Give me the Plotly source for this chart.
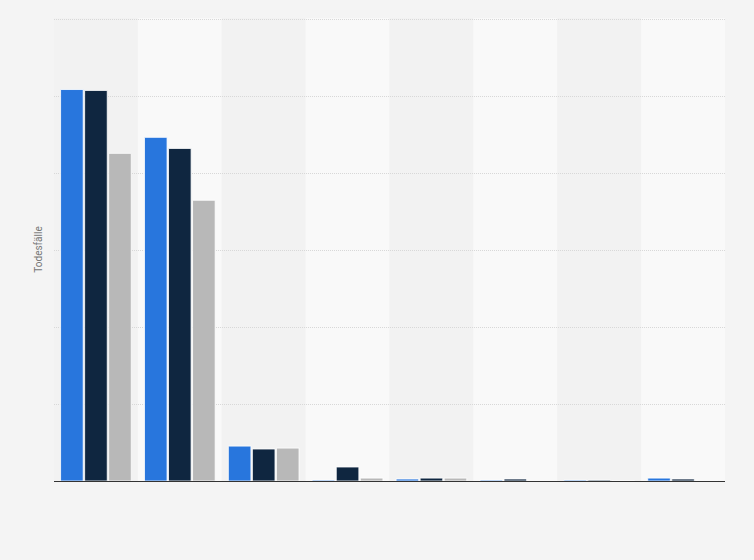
import plotly.graph_objects as go

# categories (labels are not shown in the chart)
categories = ["K1", "K2", "K3", "K4", "K5", "K6", "K7", "K8"]

# three series
series_a = [2545, 2234, 227, 6, 13, 6, 6, 19]
series_b = [2539, 2162, 208, 91, 19, 13, 6, 13]
series_c = [2130, 1825, 214, 19, 19, 3, 3, 3]

series_names = ["Serie A", "Serie B", "Serie C"]
series_colors = ["#2876dd", "#0f2640", "#b8b8b8"]

fig = go.Figure()

for name, vals, col in zip(series_names, [series_a, series_b, series_c], series_colors):
    fig.add_trace(go.Bar(
        x=categories,
        y=vals,
        name=name,
        marker=dict(color=col, line=dict(color="#ffffff", width=0.8)),
    ))

# alternating column bands
for i in range(len(categories)):
    fig.add_shape(
        type="rect", xref="x", yref="paper",
        x0=i - 0.5, x1=i + 0.5, y0=0, y1=1,
        fillcolor="#f2f2f2" if i % 2 == 0 else "#f9f9f9",
        line=dict(width=0), layer="below",
    )

fig.update_layout(
    width=754, height=560,
    margin=dict(l=54, r=29, t=18, b=79),
    paper_bgcolor="#f4f4f4",
    plot_bgcolor="#f4f4f4",
    showlegend=False,
    barmode="group",
    bargap=0.14,
    bargroupgap=0.06,
    font=dict(family="Roboto, Arial, sans-serif", color="#666666"),
    xaxis=dict(
        showticklabels=False, showgrid=False, zeroline=False,
        showline=True, linecolor="#333333", linewidth=1,
        range=[-0.5, len(categories) - 0.5],
    ),
    yaxis=dict(
        title=dict(text="Todesfälle", font=dict(size=10, color="#777777"), standoff=8),
        showticklabels=False, range=[0, 3010], dtick=500,
        showgrid=True, gridcolor="#d8d8d8", griddash="1px,1px", gridwidth=1,
        zeroline=False,
    ),
)

fig.write_html("out.html", config={"displayModeBar": False},
               post_script="document.body.style.margin='0';")
